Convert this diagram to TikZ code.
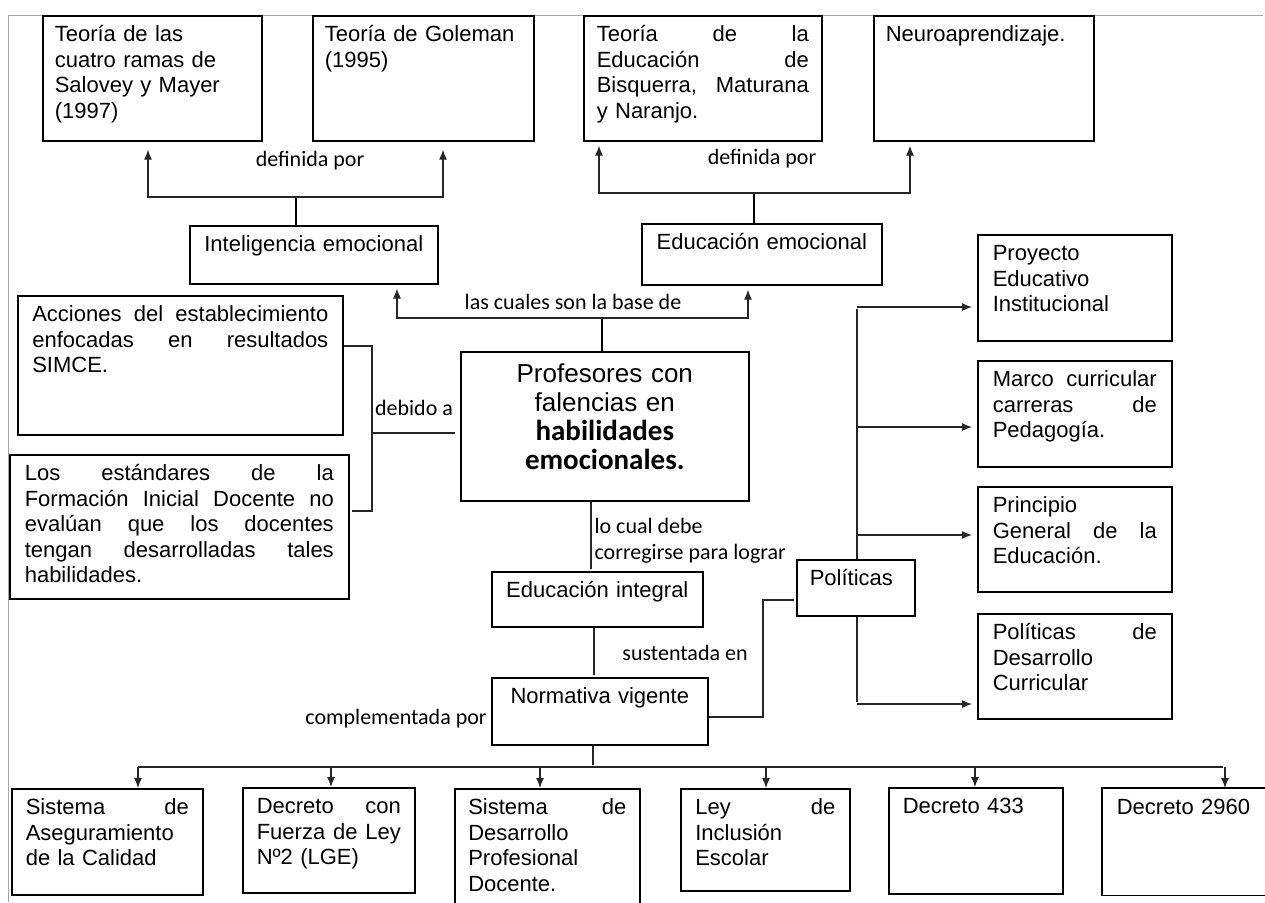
\documentclass[tikz,border=0pt]{standalone}
\usepackage{fontspec}
\setmainfont{Liberation Sans}
\newfontfamily\calibri{Carlito}
\usetikzlibrary{arrows.meta}

% justified line inside a box (align=left fixes \spaceskip, so reset it)
\newcommand{\jl}[1]{\makebox[\hsize][s]{\spaceskip=0pt\xspaceskip=0pt\relax #1}}

\begin{document}
\begin{tikzpicture}[x=0.5pt,y=-0.5pt,>={Latex[length=5pt,width=4pt]},shorten >=1pt,semithick,
  box/.style={draw,line width=0.8pt,anchor=north west,align=left,inner xsep=6pt,inner ysep=5pt,
    text height=8pt,font=\fontsize{11}{12.7}\selectfont},
  lbl/.style={inner sep=0pt,font=\calibri\fontsize{11}{13}\selectfont},
  stem/.style={line width=1.4pt,shorten >=0pt},
  line/.style={black!85}]

\useasboundingbox (0,0) rectangle (1265,902);
\draw[gray!70,line width=0.5pt] (8,902) -- (8,15) -- (1265,15);

% top row
\node[box,minimum width=109.5pt,text width=97.5pt,text depth=44.5pt] (T1) at (42,15) {Teoría de las\\cuatro ramas de\\Salovey y Mayer\\(1997)};
\node[box,minimum width=110.5pt,text width=98.5pt,text depth=44.5pt] (T2) at (312,15) {Teoría de Goleman\\(1995)};
\node[box,minimum width=119pt,text width=106pt,text depth=44.5pt] (T3) at (583,15) {\jl{Teoría de la}\\\jl{Educación de}\\\jl{Bisquerra, Maturana}\\y Naranjo.};
\node[box,minimum width=110pt,text width=98pt,text depth=44.5pt] (T4) at (873,15) {Neuroaprendizaje.};

\node[box,align=center,minimum width=124pt,text width=112pt,text depth=11pt] (IE) at (189,225) {Inteligencia emocional};
\node[box,align=center,minimum width=120pt,text width=108pt,text depth=12.5pt] (EE) at (641,223) {Educación emocional};

% centre
\node[box,align=center,minimum width=144pt,text width=132pt,inner ysep=6pt,text height=9.5pt,text depth=53pt,
  font=\fontsize{13}{14.5}\selectfont] (P) at (460,351)
  {Profesores con\\falencias en\\{\calibri\bfseries\fontsize{14.5}{14.5}\selectfont habilidades}\\{\calibri\bfseries\fontsize{14.5}{14.5}\selectfont emocionales.}};

\node[box,minimum width=162.5pt,text width=148pt,text depth=51.5pt] (AC) at (17,295) {\jl{Acciones del establecimiento}\\\jl{enfocadas en resultados}\\SIMCE.};
\node[box,minimum width=169.5pt,text width=154.5pt,text depth=54pt] (FID) at (9,454) {\jl{Los estándares de la}\\\jl{Formación Inicial Docente no}\\\jl{evalúan que los docentes}\\\jl{tengan desarrolladas tales}\\habilidades.};

\node[box,align=center,minimum width=105.5pt,text width=93.5pt,text depth=9.5pt] (EI) at (491,571) {Educación integral};
\node[box,align=center,minimum width=108pt,text width=96pt,text depth=15.5pt] (NV) at (491,677) {Normativa vigente};
\node[box,minimum width=59pt,text width=46pt,text depth=10pt] (POL) at (796,559) {Políticas};

% right column
\node[box,minimum width=97pt,text width=82pt,text depth=35pt] (PEI) at (977,234) {Proyecto\\Educativo\\Institucional};
\node[box,minimum width=97pt,text width=82pt,text depth=35pt] (MC) at (977,360) {\jl{Marco curricular}\\\jl{carreras de}\\Pedagogía.};
\node[box,minimum width=97pt,text width=82pt,text depth=34.5pt] (PG) at (977,486) {Principio\\\jl{General de la}\\Educación.};
\node[box,minimum width=97pt,text width=82pt,text depth=34.5pt] (PDC) at (977,613) {\jl{Políticas de}\\Desarrollo\\Curricular};

% bottom row
\node[box,minimum width=95.5pt,text width=81.5pt,text depth=35pt] (SAC) at (11,788) {\jl{Sistema de}\\Aseguramiento\\de la Calidad};
\node[box,minimum width=86pt,text width=72pt,text depth=34.5pt] (DFL) at (242,787) {\jl{Decreto con}\\\jl{Fuerza de Ley}\\Nº2 (LGE)};
\node[box,minimum width=92.5pt,text width=79pt,text depth=47pt] (SDP) at (454,788) {\jl{Sistema de}\\Desarrollo\\Profesional\\Docente.};
\node[box,minimum width=84.5pt,text width=70pt,text depth=33pt] (LIE) at (680,788) {\jl{Ley de}\\Inclusión\\Escolar};
\node[box,minimum width=87pt,text width=73pt,text depth=35pt] (D433) at (888,787) {Decreto 433};
\node[box,draw=none,minimum width=120pt,text width=106pt,text depth=35pt] (D2960) at (1102,788) {Decreto 2960};
\draw[line width=0.8pt] (D2960.north east) -- (D2960.north west) -- (D2960.south west) -- (D2960.south east);

% labels
\node[lbl] (l1) at (310,161) {definida por};
\node[lbl] (l2) at (762,159) {definida por};
\node[lbl] (l3) at (573,302) {las cuales son la base de};
\node[lbl] (l4) at (414,408) {debido a};
\node[lbl,anchor=west,align=left] (l5) at (594,541) {lo cual debe\\corregirse para lograr};
\node[lbl] (l6) at (685,653) {sustentada en};
\node[lbl] (l7) at (396,719) {complementada por};

% junctions
\coordinate (j1) at (296,197);
\coordinate (j2) at (754,193);
\coordinate (j3) at (602,318);
\coordinate (j4) at (372,433);
\coordinate (j5) at (857,307);
\coordinate (j6) at (857,704);
\coordinate (j7) at (593,767);
\coordinate (j8) at (763,600);

\draw[stem] (IE.north -| j1) -- (j1);
\draw[line,->,shorten >=4pt] (j1) -| (T1.south -| 148,0);
\draw[line,->,shorten >=4pt] (j1) -| (T2.south -| 443,0);
\draw[stem] (EE.north -| j2) -- (j2);
\draw[line,->,shorten >=2pt] (j2) -| (T3.south -| 599,0);
\draw[line,->,shorten >=2pt] (j2) -| (T4.south -| 910,0);
\draw[stem] (P.north -| j3) -- (j3);
\draw[line,->,shorten >=2pt] (j3) -| (IE.south -| 397,0);
\draw[line,->,shorten >=2pt] (j3) -| (EE.south -| 748,0);

\draw[line] (AC.east |- 0,346) -| (j4) |- (FID.east |- 0,511);
\draw[line,shorten >=2.5pt] (j4) -- (P.west |- j4);

\draw[line] (P.south -| 591,0) -- (EI.north -| 591,0);
\draw[line] (EI.south -| 594,0) -- (NV.north -| 594,0);
\draw[line] (NV.east |- 0,717) -| (j8) -- (POL.west |- j8);

\draw[line] (POL.north -| j5) -- (j5);
\draw[line] (POL.south -| j6) -- (j6);
\draw[line,->,shorten >=2.5pt] (j5) -- (PEI.west |- j5);
\draw[line,->,shorten >=2.5pt] (j5 |- 0,427) -- (MC.west |- 0,427);
\draw[line,->,shorten >=2.5pt] (j5 |- 0,535) -- (PG.west |- 0,535);
\draw[line,->,shorten >=2.5pt] (j6) -- (PDC.west |- j6);

\draw[line] (NV.south -| j7) -- (j7);
\draw[line] (j7 -| 138,0) -- (j7 -| 1225,0);
\foreach \n/\x in {SAC/138,DFL/331,SDP/540,LIE/766,D433/975,D2960/1225}
  \draw[line,->,shorten >=0pt] (j7 -| \x,0) -- (\n.north -| \x,0);

\end{tikzpicture}
\end{document}
